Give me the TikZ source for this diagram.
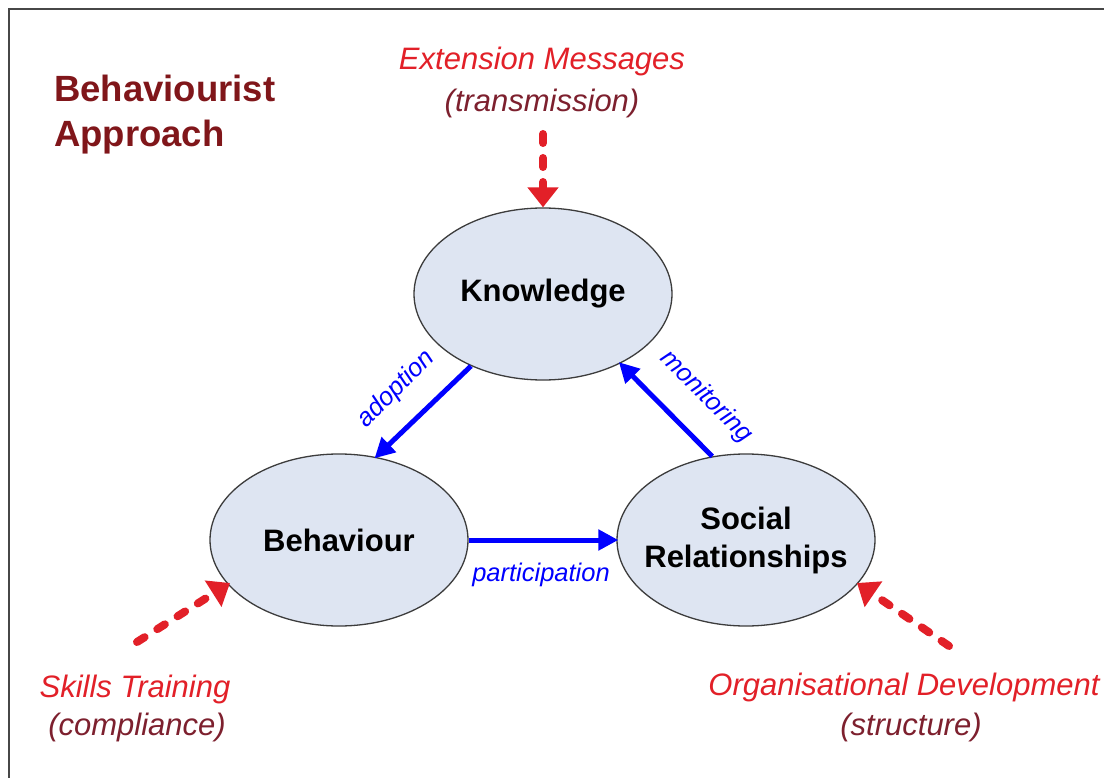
\documentclass[tikz,border=0pt]{standalone}
\usepackage{fontspec}
\setmainfont{Liberation Sans}
\usetikzlibrary{arrows.meta,shapes.geometric}
\definecolor{titlered}{RGB}{128,22,26}
\definecolor{srcred}{RGB}{226,32,40}
\definecolor{maroon}{RGB}{125,32,46}
\definecolor{bubblefill}{RGB}{222,229,242}
\definecolor{bubbleline}{RGB}{60,60,60}
\tikzset{
  bubble/.style={ellipse, draw=bubbleline, line width=1.3pt, fill=bubblefill,
    minimum width=258pt, minimum height=172pt, inner sep=-30pt, align=center,
    font=\fontsize{31}{38}\selectfont\bfseries},
  flow/.style={draw=blue, line width=5pt, -{Triangle[width=20pt,length=20pt]}, shorten >=-2pt},
  feed/.style={draw=srcred, line width=8pt, line cap=round, dash pattern=on 9pt off 15pt,
    -{Triangle[width=30pt,length=20pt]}},
  flowlbl/.style={text=blue, font=\fontsize{25.5}{28}\selectfont\itshape, inner sep=0pt},
  srclbl/.style={text=srcred, font=\fontsize{31}{34}\selectfont\itshape, anchor=base, inner sep=0pt},
  sublbl/.style={text=maroon, font=\fontsize{31}{34}\selectfont\itshape, anchor=base, inner sep=0pt},
}
\begin{document}
\begin{tikzpicture}[x=1pt,y=-1pt]
\useasboundingbox (0,0) rectangle (1104,778);
\fill[white] (0,0) rectangle (1104,778);
\draw[line width=2.5pt, draw=black!72] (9,778) -- (9,9) -- (1104,9);

% title
\node[anchor=base west, inner sep=0pt, text=titlered, align=left,
  font=\fontsize{36.5}{45}\selectfont\bfseries] (title) at (54,147) {Behaviourist\\Approach};

% bubbles
\node[bubble] (K) at (543,294) {Knowledge};
\node[bubble] (B) at (339,540) {Behaviour};
\node[bubble] (S) at (746,540) {Social\\Relationships};

% flows
\draw[flow] (K.225) -- (B.66);
\draw[flow] (S.112) -- (K.318);
\draw[flow] (B.east) -- (S.west);
\node[flowlbl, rotate=45] (ladopt) at (396,389) {adoption};
\node[flowlbl, rotate=-45] (lmon) at (706,397) {monitoring};
\node[flowlbl, anchor=base] (lpart) at (541,581) {participation};

% external inputs
\node[srclbl] (ext) at (542,70) {Extension Messages};
\node[sublbl] (extsub) at (542,112) {(transmission)};
\coordinate (extstart) at (543,134);
\draw[feed] (extstart) -- (K.north);

\node[srclbl] (skill) at (135,697) {Skills Training};
\node[sublbl] (skillsub) at (137,735) {(compliance)};
\coordinate (skillstart) at (137,642);
\coordinate (skillend) at (230,583);
\draw[feed] (skillstart) -- (skillend);

\node[srclbl] (org) at (904,695) {Organisational Development};
\node[sublbl] (orgsub) at (911,735) {(structure)};
\coordinate (orgstart) at (949,646);
\coordinate (orgend) at (857,583);
\draw[feed] (orgstart) -- (orgend);
\end{tikzpicture}
\end{document}
